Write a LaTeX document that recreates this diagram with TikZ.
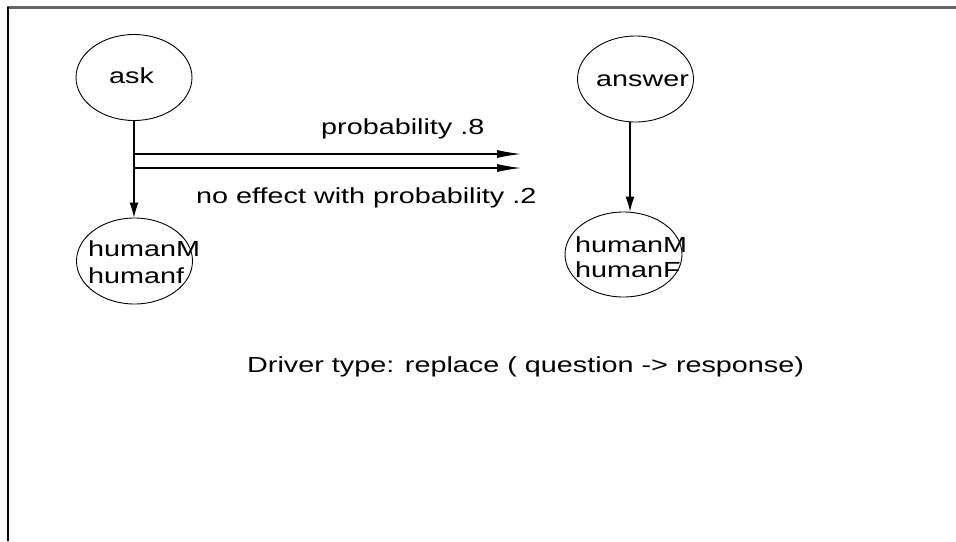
\documentclass[tikz,border=0pt]{standalone}
\usepackage{fontspec}
\setmainfont{Liberation Sans}[FakeStretch=1.32]
\usetikzlibrary{arrows.meta,shapes.geometric}
\begin{document}
\begin{tikzpicture}[x=1pt,y=-1pt,
  oval/.style={draw, ellipse, inner sep=0pt, line width=0.9pt, minimum width=116pt, minimum height=86pt},
  txt/.style={font=\fontsize{21.8}{27}\selectfont, inner sep=0pt, anchor=base west},
  conn/.style={line width=1.1pt},
  vhead/.style={-{Latex[length=15pt,width=9pt]}},
  hhead/.style={-{Latex[length=24pt,width=8pt]}}]
\useasboundingbox (0,0) rectangle (956,541);
% frame
\draw[line width=2.5pt, draw=black!60] (7,7.5) -- (956,7.5);
\draw[line width=2pt] (8,7) -- (8,541);
% ovals
\node[oval] (ask) at (134,77.5) {};
\node[oval] (answer) at (635.5,79) {};
\node[oval] (hm1) at (134.5,261) {};
\node[oval, minimum width=117pt, minimum height=85pt] (hm2) at (623.5,254.5) {};
% texts in ovals
\node[txt] (asklbl) at (109,83) {ask};
\node[txt] (answerlbl) at (596,86) {answer};
\node[txt] (hm1a) at (88,256) {humanM};
\node[txt] (hm1b) at (88,283) {humanf};
\node[txt] (hm2a) at (575,252) {humanM};
\node[txt] (hm2b) at (575,277) {humanF};
% connectors
\coordinate (e1) at (521,154);
\coordinate (e2) at (521,168);
\draw[conn, vhead] (ask.south) -- (ask.south |- hm1.north);
\draw[conn, hhead] (ask.south |- e1) -- (e1);
\draw[conn, hhead] (ask.south |- e2) -- (e2);
\draw[conn, vhead] ([xshift=-5.5pt]answer.south) -- ([xshift=-5.5pt]answer.south |- hm2.north);
% labels
\node[txt] (p8) at (321,134) {probability .8};
\node[txt] (p2) at (196,203) {no effect with probability .2};
\node[txt] (drv) at (247,372) {Driver type: replace ( question -> response)};
\end{tikzpicture}
\end{document}
